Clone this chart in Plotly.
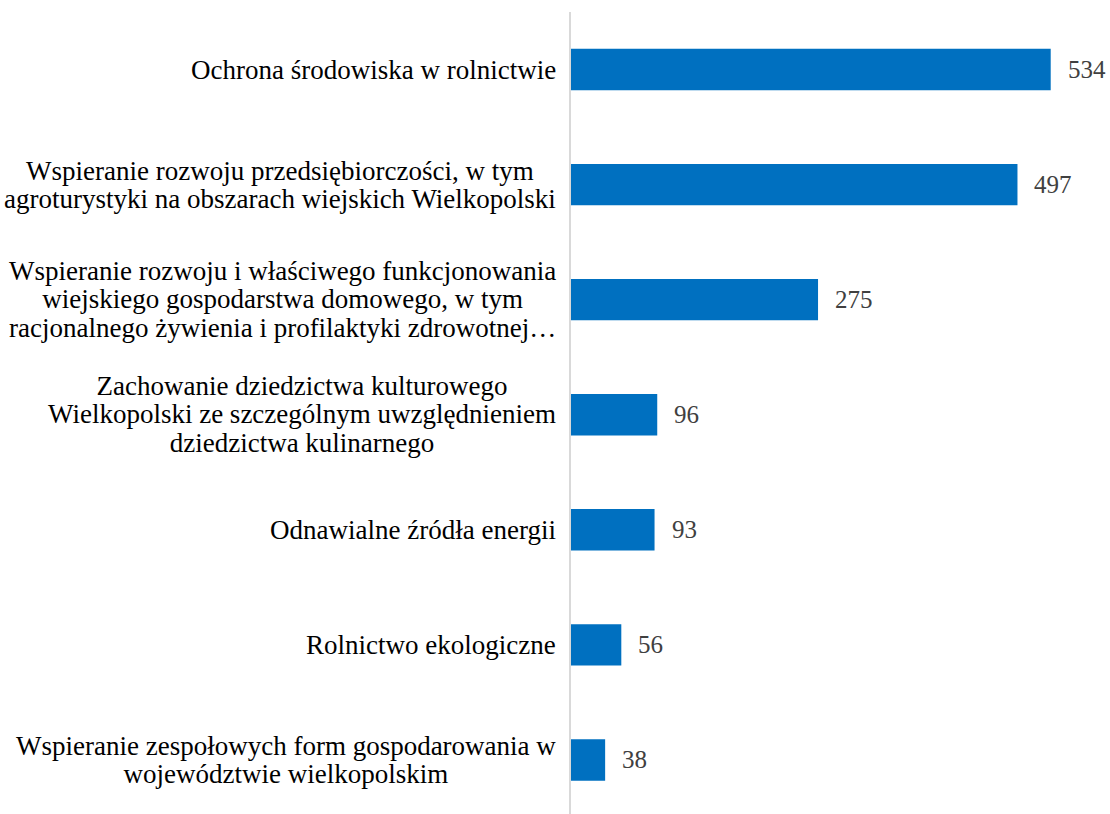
import plotly.graph_objects as go

categories = [
    ["Ochrona środowiska w rolnictwie"],
    ["Wspieranie rozwoju przedsiębiorczości, w tym",
     "agroturystyki na obszarach wiejskich Wielkopolski"],
    ["Wspieranie rozwoju i właściwego funkcjonowania",
     "wiejskiego gospodarstwa domowego, w tym",
     "racjonalnego żywienia i profilaktyki zdrowotnej…"],
    ["Zachowanie dziedzictwa kulturowego",
     "Wielkopolski ze szczególnym uwzględnieniem",
     "dziedzictwa kulinarnego"],
    ["Odnawialne źródła energii"],
    ["Rolnictwo ekologiczne"],
    ["Wspieranie zespołowych form gospodarowania w",
     "województwie wielkopolskim"],
]
values = [534, 497, 275, 96, 93, 56, 38]

ids = list(range(len(categories)))
FONT = "Liberation Serif"

fig = go.Figure(go.Bar(
    x=values, y=ids, orientation="h",
    marker=dict(color="#0070C0", line=dict(width=0)),
    width=0.36, hoverinfo="x",
))

annotations = []
for i, lines in enumerate(categories):
    txt = "<br>".join(f"<span style='font-size:27px'>{ln}</span>" for ln in lines)
    annotations.append(dict(
        x=0, xref="paper", y=i, yref="y", text=txt, showarrow=False,
        xanchor="right", yanchor="middle", align="center", xshift=-13,
        font=dict(family=FONT, size=21.8, color="#000000"),
    ))
for i, v in enumerate(values):
    annotations.append(dict(
        x=v, xref="x", y=i, yref="y", text=str(v), showarrow=False,
        xanchor="left", xshift=15,
        font=dict(family=FONT, size=25, color="#404040"),
    ))

fig.update_layout(
    width=1110, height=814,
    margin=dict(l=571, r=0, t=12, b=0),
    paper_bgcolor="white", plot_bgcolor="white",
    showlegend=False, annotations=annotations,
    xaxis=dict(range=[0, 600], visible=False),
    yaxis=dict(range=[6.47, -0.5], showticklabels=False, ticks="",
               showgrid=False, zeroline=False, showline=True,
               linecolor="#D9D9D9", linewidth=2),
)

fig.write_html("out.html", config={"displayModeBar": False},
               post_script="document.body.style.margin='0';")
